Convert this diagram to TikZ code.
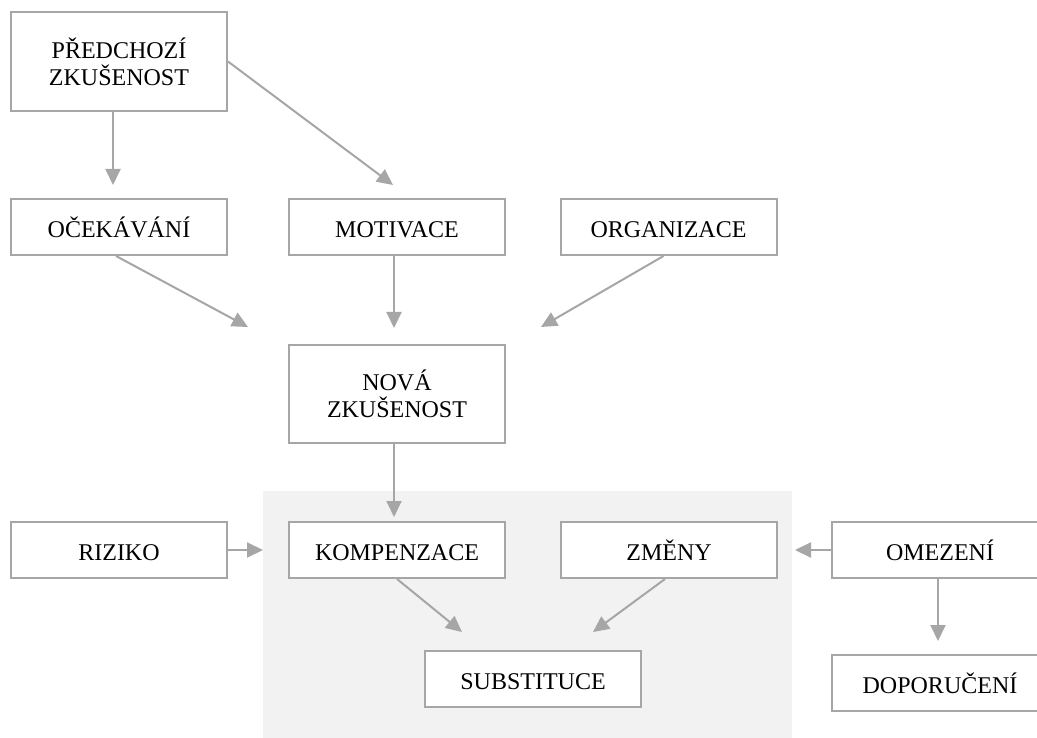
\documentclass[tikz,border=0pt]{standalone}
\usepackage{fontspec}
\setmainfont{Liberation Serif}
\usetikzlibrary{arrows.meta}
\definecolor{linegray}{HTML}{A6A6A6}
\definecolor{bggray}{HTML}{F2F2F2}
\tikzset{
  box/.style={draw=linegray, line width=2pt, fill=white, rectangle, minimum width=216pt, minimum height=56pt, inner sep=0pt, align=center, font=\fontsize{24}{27}\selectfont, text height=22pt, text depth=1pt},
  tallbox/.style={draw=linegray, line width=2pt, fill=white, rectangle, minimum width=216pt, minimum height=99pt, inner sep=0pt, align=center, font=\fontsize{24}{27}\selectfont},
  conn/.style={draw=linegray, line width=2pt, -{Triangle[length=16pt,width=15pt]}}
}
\begin{document}
\begin{tikzpicture}[x=1pt,y=-1pt]
\useasboundingbox (0,0) rectangle (1037,738);
\clip (0,0) rectangle (1037,738);
\fill[bggray] (263,491) rectangle (792,738);

\node[tallbox] (pred) at (119,61.5) {PŘEDCHOZÍ\\ZKUŠENOST};
\node[box] (ocek) at (119,227) {OČEKÁVÁNÍ};
\node[box] (motiv) at (397,227) {MOTIVACE};
\node[box] (org) at (668.5,227) {ORGANIZACE};
\node[tallbox, minimum height=98pt] (nova) at (397,394) {NOVÁ\\ZKUŠENOST};
\node[box] (riz) at (119,550) {RIZIKO};
\node[box] (komp) at (397,550) {KOMPENZACE};
\node[box] (zmeny) at (669,550) {ZMĚNY};
\node[box] (omez) at (940,550) {OMEZENÍ};
\node[box] (subst) at (533,679) {SUBSTITUCE};
\node[box] (dopor) at (940,683) {DOPORUČENÍ};

\coordinate (t1) at (113,185);
\coordinate (t2) at (393,185);
\coordinate (t3) at (248,327);
\coordinate (t4) at (394,328);
\coordinate (t5) at (541,327);
\coordinate (t6) at (394,517);
\coordinate (t7) at (263,550);
\coordinate (t8) at (795,550);
\coordinate (t9) at (462,632);
\coordinate (t10) at (593,632);
\coordinate (t11) at (938,641);

\draw[conn] (pred.south -| t1) -- (t1);
\draw[conn] (pred.east) -- (t2);
\draw[conn] ([xshift=-3pt]ocek.south) -- (t3);
\draw[conn] (motiv.south -| t4) -- (t4);
\draw[conn] ([xshift=-5pt]org.south) -- (t5);
\draw[conn] (nova.south -| t6) -- (t6);
\draw[conn] (riz.east) -- (t7);
\draw[conn] (omez.west) -- (t8);
\draw[conn] (komp.south) -- (t9);
\draw[conn] ([xshift=-4pt]zmeny.south) -- (t10);
\draw[conn] (omez.south -| t11) -- (t11);
\end{tikzpicture}
\end{document}
